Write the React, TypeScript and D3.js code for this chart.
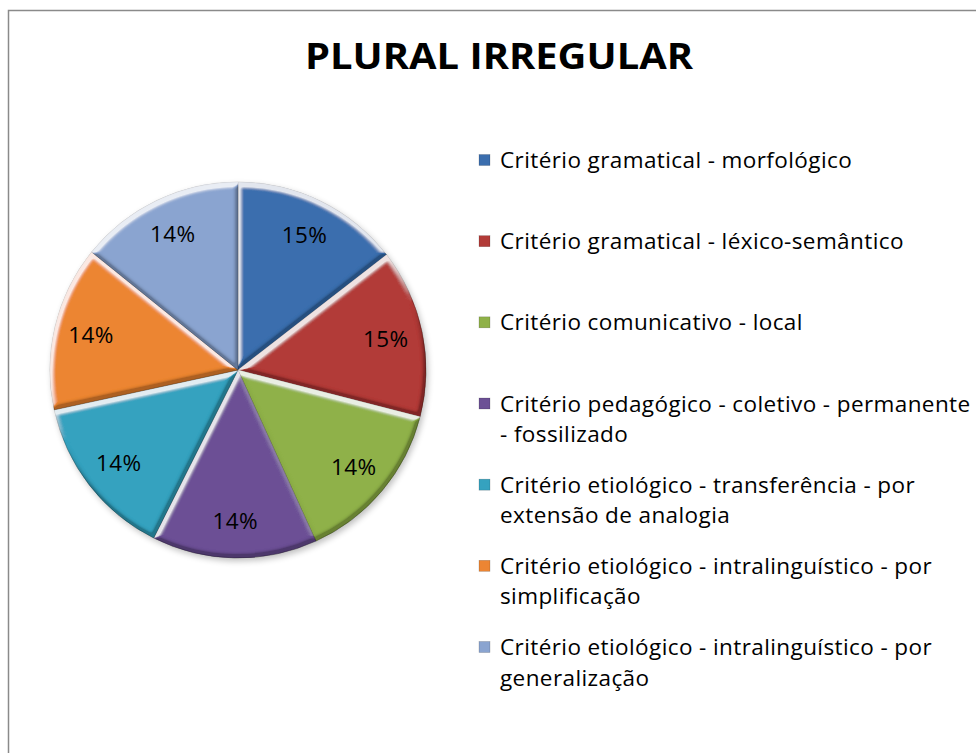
import React from "react";
import * as d3 from "d3";

// slices, clockwise from 12 o'clock
const categories = [
  "Critério gramatical - morfológico",
  "Critério gramatical - léxico-semântico",
  "Critério comunicativo - local",
  "Critério pedagógico - coletivo - permanente - fossilizado",
  "Critério etiológico - transferência - por extensão de analogia",
  "Critério etiológico - intralinguístico - por simplificação",
  "Critério etiológico - intralinguístico - por generalização",
];
const values = [14.5, 14.5, 14.2, 14.2, 14.2, 14.2, 14.2];
const colors = ["#3b6eae", "#b23b38", "#8fb148", "#6c5095", "#35a2bf", "#ec8533", "#8aa4d0"];
// legend text as wrapped in the original
const legendLines = [
  ["Critério gramatical - morfológico"],
  ["Critério gramatical - léxico-semântico"],
  ["Critério comunicativo - local"],
  ["Critério pedagógico - coletivo - permanente", "- fossilizado"],
  ["Critério etiológico - transferência - por", "extensão de analogia"],
  ["Critério etiológico - intralinguístico - por", "simplificação"],
  ["Critério etiológico - intralinguístico - por", "generalização"],
];
const title = "PLURAL IRREGULAR";

const W = 976;
const H = 753;
const cx = 238;
const cy = 370;
const radius = 188;
const font = "'Open Sans', Lato, sans-serif";
const textSize = 22.5;
const textSpacing = 0.4;

export default function App() {
  const total = d3.sum(values);
  const pie = d3.pie<number>().sort(null).value((d) => d)(values);
  const arc = d3.arc<d3.PieArcDatum<number>>().innerRadius(0).outerRadius(radius);
  const labelArc = d3.arc<d3.PieArcDatum<number>>().innerRadius(151).outerRadius(151);
  const pct = (v: number) => Math.round((v / total) * 100 + 1e-9) + "%";
  const legendY = d3.scaleLinear().domain([0, categories.length - 1]).range([168, 655]);

  return (
    <svg
      width={W}
      height={H}
      style={{ position: "absolute", left: 0, top: 0, background: "#fff" }}
      fontFamily={font}
    >
      <defs>
        <filter id="bevel" x="-10%" y="-10%" width="120%" height="120%">
          <feGaussianBlur in="SourceAlpha" stdDeviation="2" result="b" />
          <feOffset in="b" dx="-1" dy="-2.5" result="bUp" />
          <feOffset in="b" dx="1" dy="2.5" result="bDown" />
          <feComposite in="bUp" in2="bDown" operator="arithmetic" k2="4" k3="-4" result="topE" />
          <feComposite in="bDown" in2="bUp" operator="arithmetic" k2="4" k3="-4" result="botE" />
          <feFlood floodColor="#ffffff" floodOpacity="0.75" />
          <feComposite in2="topE" operator="in" result="hi0" />
          <feComposite in="hi0" in2="SourceAlpha" operator="in" result="hi" />
          <feFlood floodColor="#000000" floodOpacity="0.5" />
          <feComposite in2="botE" operator="in" result="lo0" />
          <feComposite in="lo0" in2="SourceAlpha" operator="in" result="lo" />
          <feMerge>
            <feMergeNode in="SourceGraphic" />
            <feMergeNode in="hi" />
            <feMergeNode in="lo" />
          </feMerge>
        </filter>
        <filter id="shadow" x="-20%" y="-20%" width="140%" height="140%">
          <feGaussianBlur stdDeviation="3" />
        </filter>
      </defs>

      <rect x={8.5} y={10.5} width={W + 20} height={H + 20} fill="none" stroke="#8a8a8a" strokeWidth={1.5} />

      <text
        x={499}
        y={69}
        textAnchor="middle"
        fontSize={36}
        fontWeight="bold"
        fill="#000"
        textLength={388}
        lengthAdjust="spacingAndGlyphs"
      >
        {title}
      </text>

      <g transform={`translate(${cx},${cy})`}>
        <circle cx={2} cy={3} r={radius} fill="#000" opacity={0.25} filter="url(#shadow)" />
        {pie.map((d, i) => (
          <path
            key={categories[i]}
            d={arc(d) || ""}
            fill={colors[i]}
            stroke="rgba(0,0,0,0.3)"
            strokeWidth={0.8}
            filter="url(#bevel)"
          />
        ))}
        {pie.map((d, i) => {
          const [x, y] = labelArc.centroid(d);
          return (
            <text
              key={i}
              x={x}
              y={y}
              dy="0.36em"
              textAnchor="middle"
              fontSize={textSize}
              letterSpacing={textSpacing}
              fill="#000"
            >
              {pct(d.value)}
            </text>
          );
        })}
      </g>

      {legendLines.map((lines, i) => {
        const y0 = legendY(i);
        return (
          <g key={i}>
            <rect
              x={479}
              y={y0 - 13.5}
              width={11}
              height={11}
              fill={colors[i]}
              stroke="rgba(0,0,0,0.25)"
              strokeWidth={0.6}
            />
            {lines.map((t, j) => (
              <text
                key={j}
                x={500}
                y={y0 + j * 30.5}
                fontSize={textSize}
                letterSpacing={textSpacing}
                fill="#000"
              >
                {t}
              </text>
            ))}
          </g>
        );
      })}
    </svg>
  );
}
